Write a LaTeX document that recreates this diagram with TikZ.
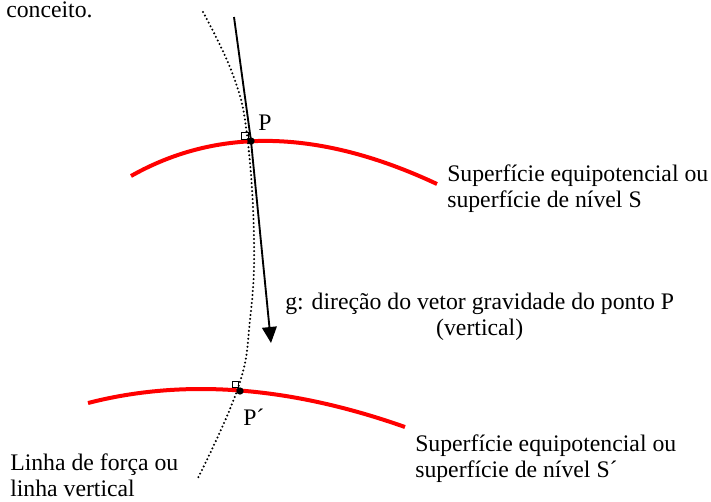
\documentclass[tikz,border=0pt]{standalone}
\usepackage{fontspec}
\setmainfont{Liberation Serif}
\usetikzlibrary{arrows.meta}
\tikzset{
  surface/.style={draw=red, line width=3pt},
  forceline/.style={draw=black, line width=1.7pt, line cap=round, dash pattern=on 0pt off 3pt},
  gravity/.style={draw=black, line width=1.4pt, -{Triangle[length=12pt, width=11pt]}},
  label/.style={align=left, inner sep=0pt, font=\fontsize{17.8}{19.5}\selectfont},
  corner/.style={draw=black, line width=0.8pt, minimum size=5pt, inner sep=0pt},
  point/.style={circle, fill=black, minimum size=5.5pt, inner sep=0pt},
}

\begin{document}
\begin{tikzpicture}[x=0.75pt, y=-0.75pt]
  \useasboundingbox (0,0) rectangle (711,501);

  % surfaces S and S'
  \coordinate (sA) at (131,176);
  \coordinate (sB) at (437,184);
  \coordinate (tA) at (88,403);
  \coordinate (tB) at (405,427);
  \draw[surface] (sA) .. controls (218.3,126.7) and (320.3,129.3) .. (sB);
  \draw[surface] (tA) .. controls (184,378.3) and (289.7,386.3) .. (tB);

  % line of force
  \draw[forceline] plot[smooth, tension=0.7] coordinates
    {(203,12) (233,75) (247,135) (254,240) (250,320) (238,388) (197,480)};

  \node[corner] (qP) at (245,136) {};
  \node[corner] (qPl) at (235.5,384.5) {};
  \node[point] (P) at (251,141) {};
  \node[point] (Pl) at (240,391) {};

  % gravity direction
  \coordinate (gtop) at (234,17);
  \coordinate (gtip) at (271,343);
  \draw[gravity] (gtop) -- (P.center) -- (gtip);

  % texts
  \node[label, anchor=base west] (prev) at (6,17) {conceito.};
  \node[label, anchor=base west] (pP) at (258,130) {P};
  \node[label, anchor=base west] (pPl) at (243,425) {P´};
  \node[label, anchor=base west] (S1) at (447,207) {Superfície equipotencial ou\\superfície de nível S};
  \node[label, align=center, anchor=base west] (g) at (285,335) {g: direção do vetor gravidade do ponto P\\(vertical)};
  \node[label, anchor=base west] (S2) at (415,477) {Superfície equipotencial ou\\superfície de nível S´};
  \node[label, anchor=base west, text depth=0pt] (linha) at (10,496) {Linha de força ou\\linha vertical};

\end{tikzpicture}
\end{document}
